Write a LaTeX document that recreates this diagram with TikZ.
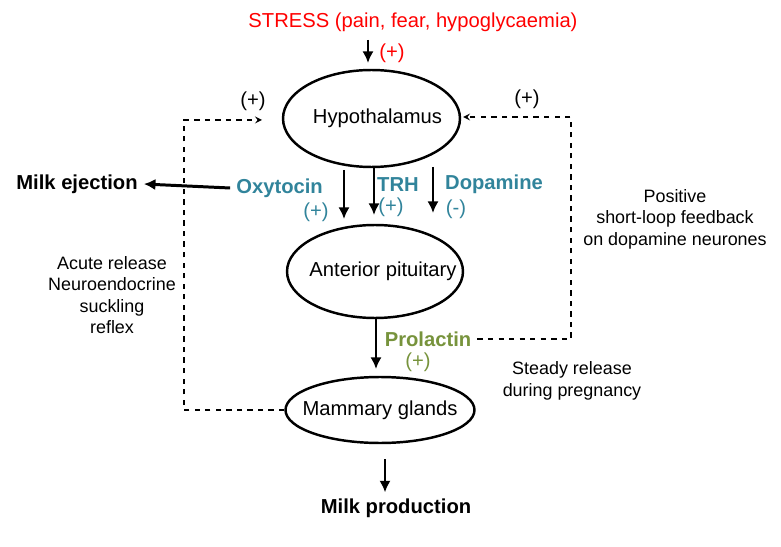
\documentclass[tikz,border=0pt]{standalone}
\usepackage{fontspec}
\setmainfont{Liberation Sans}
\usetikzlibrary{shapes.geometric,arrows.meta}
\definecolor{hormteal}{HTML}{31849B}
\definecolor{prlgreen}{HTML}{77933C}
\tikzset{
  organ/.style={draw, ellipse, line width=1.4pt, inner sep=-30pt, font=\fontsize{11.5}{13}\selectfont},
  hormone/.style={-{Latex[length=6.6pt,width=6.4pt]}, line width=1.7pt},
  loopback/.style={->, >=stealth, dashed, line width=0.75pt},
  bigtxt/.style={font=\fontsize{11.5}{13}\selectfont},
  smalltxt/.style={font=\fontsize{10.2}{12.2}\selectfont, align=center},
  hlabel/.style={font=\fontsize{11.5}{13}\selectfont\bfseries, text=hormteal},
  hsign/.style={font=\fontsize{11.5}{13}\selectfont, text=hormteal}
}
\begin{document}
\begin{tikzpicture}[x=0.02cm, y=-0.02cm]
                        \useasboundingbox (0,0) rectangle (781,547);
                        % glands
                        \node[organ, minimum width=3.54cm, minimum height=1.94cm] (hypo) at (371.5,118.5) {\hspace*{0.24cm}Hypothalamus};
                        \node[organ, minimum width=3.52cm, minimum height=1.86cm] (pit) at (375,271.5) {\hspace*{0.32cm}Anterior pituitary};
                        \node[organ, minimum width=3.78cm, minimum height=1.32cm] (mam) at (380,410) {Mammary glands};
                        % stress input
                        \node[bigtxt, text=red] (stress) at (413,22) {STRESS (pain, fear, hypoglycaemia)};
                        \node[bigtxt, text=red] (stressplus) at (392,53) {(+)};
                        \coordinate (stressA) at (368,40);
                        \coordinate (stressB) at (368,63);
                        \draw[hormone] (stressA) -- (stressB);
                        % hypothalamic hormones
                        \node[hlabel, anchor=east] (oxy) at (329,188) {Oxytocin};
                        \node[hsign] (oxyplus) at (316,212) {(+)};
                        \node[hlabel] (trh) at (398,185) {TRH};
                        \node[hsign] (trhplus) at (391,207) {(+)};
                        \node[hlabel] (dop) at (494,184) {Dopamine};
                        \node[hsign] (dopminus) at (456,209) {(-)};
                        \coordinate (oxyA) at (344,170);
                        \coordinate (oxyB) at (344,219);
                        \coordinate (trhA) at (374,168);
                        \coordinate (trhB) at (374,215);
                        \coordinate (dopA) at (433,167);
                        \coordinate (dopB) at (433,213);
                        \draw[hormone] (oxyA) -- (oxyB);
                        \draw[hormone] (trhA) -- (trhB);
                        \draw[hormone] (dopA) -- (dopB);
                        % milk ejection
                        \node[bigtxt, font=\fontsize{11.5}{13}\selectfont\bfseries] (eject) at (77,184) {Milk ejection};
                        \draw[hormone] (oxy.west) -- (eject.east);
                        % prolactin
                        \node[hlabel, text=prlgreen] (prl) at (428,339) {Prolactin};
                        \node[hsign, text=prlgreen] (prlplus) at (418,362) {(+)};
                        \coordinate (prlA) at (376,318);
                        \coordinate (prlB) at (376,369);
                        \draw[hormone] (prlA) -- (prlB);
                        % milk production
                        \node[bigtxt, font=\fontsize{11.5}{13}\selectfont\bfseries] (prod) at (396,508) {Milk production};
                        \coordinate (prodA) at (385,459);
                        \draw[hormone] (prodA) -- (prodA |- prod.north);
                        % feedback loops
                        \coordinate (leftTop) at (262,120);
                        \coordinate (rightTop) at (463,117);
                        \draw[loopback] (mam.west) -| (184,120) -- (leftTop);
                        \draw[loopback] (prl.east) -| (571,117) -- (rightTop);
                        \node[bigtxt] (lplus) at (253,101) {(+)};
                        \node[bigtxt] (rplus) at (527,99) {(+)};
                        % side notes
                        \node[smalltxt] (acute) at (112,295) {Acute release\\Neuroendocrine\\suckling\\reflex};
                        \node[smalltxt] (shortloop) at (675,219) {Positive\\short-loop feedback\\on dopamine neurones};
                        \node[smalltxt] (steady) at (572,381) {Steady release\\during pregnancy};
                    \end{tikzpicture}
\end{document}
